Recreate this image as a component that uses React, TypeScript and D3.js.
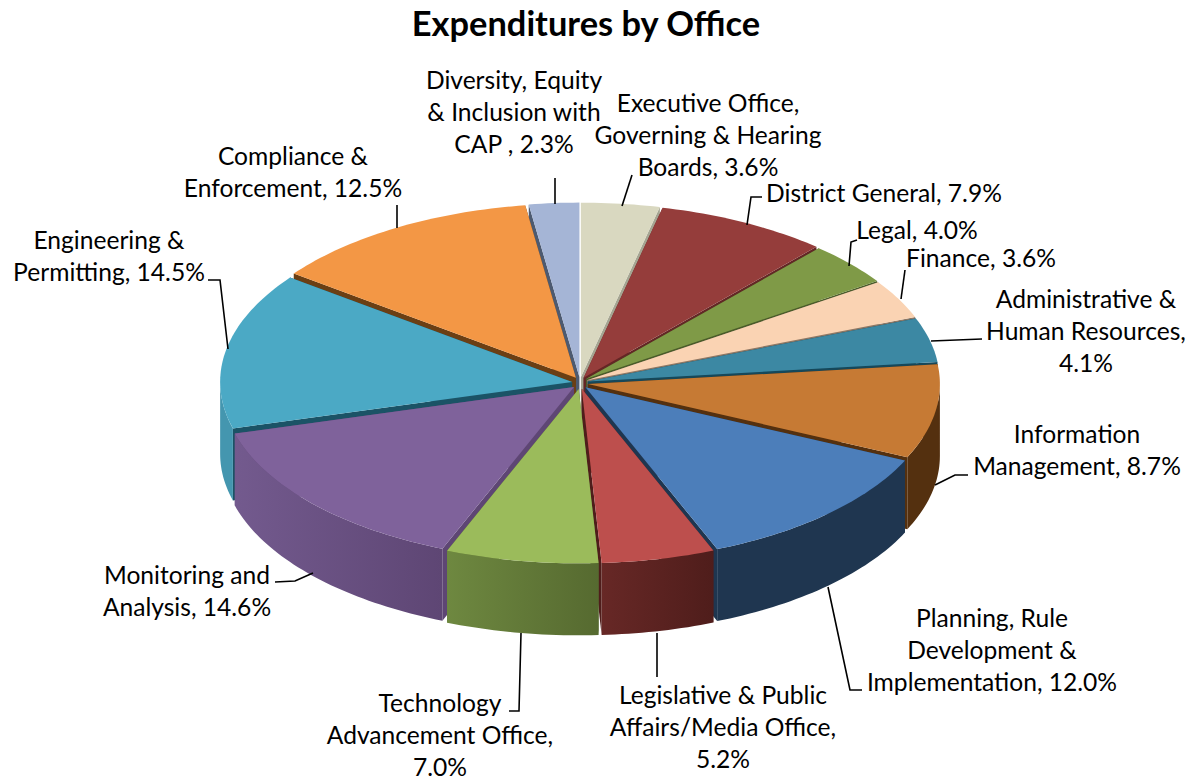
import React from "react";
import * as d3 from "d3";

const categories = ["Executive Office, Governing & Hearing Boards","District General","Legal","Finance","Administrative & Human Resources","Information Management","Planning, Rule Development & Implementation","Legislative & Public Affairs/Media Office","Technology Advancement Office","Monitoring and Analysis","Engineering & Permitting","Compliance & Enforcement","Diversity, Equity & Inclusion with CAP"];
const shares = [3.6,7.9,4.0,3.6,4.1,8.7,12.0,5.2,7.0,14.6,14.5,12.5,2.3];
const topColors = ["#D9D8C0","#953D3B","#7F9A47","#FAD3B3","#3C88A3","#C67A34","#4C7EBA","#BD4F4D","#9BBB5B","#7F629B","#4BA9C5","#F39745","#A5B5D6"];
const wallLight = ["#A5A592","#6A2A28","#566A30","#9C8672","#2A6478","#54300F","#1F3650","#672826","#6E8840","#735A8E","#4496AF","#6B3F14","#56637A"];
const wallDark = ["#A5A592","#632725","#4A5C2A","#8C7765","#16485A","#54300F","#1F3650","#4F1D1B","#566A30","#5E4674","#1B5366","#6B3F14","#4D5A70"];

const titleText = "Expenditures by Office";
const labelLines = [
  ["Executive Office,","Governing & Hearing","Boards, 3.6%"],
  ["District General, 7.9%"],
  ["Legal, 4.0%"],
  ["Finance, 3.6%"],
  ["Administrative &","Human Resources,","4.1%"],
  ["Information","Management, 8.7%"],
  ["Planning, Rule","Development &","Implementation, 12.0%"],
  ["Legislative & Public","Affairs/Media Office,","5.2%"],
  ["Technology","Advancement Office,","7.0%"],
  ["Monitoring and","Analysis, 14.6%"],
  ["Engineering &","Permitting, 14.5%"],
  ["Compliance &","Enforcement, 12.5%"],
  ["Diversity, Equity","& Inclusion with","CAP , 2.3%"],
];
// label anchor: centre x, first baseline
const labelAnchors: [number, number][] = [[708,112],[884,202],[917,239],[981,267],[1086,308],[1077,443],[992,627],[723,704],[440,712],[187,584],[109,249],[293,165],[514,89]];
const leaders: [number, number][][] = [
  [[632,175],[622,206]],
  [[762,197],[751,197],[747,225]],
  [[857,240],[851,242],[849,266]],
  [[905,270],[901,299]],
  [[982,339],[931,341]],
  [[968,475],[955,475],[935,485]],
  [[862,690],[850,690],[828,587]],
  [[657,633],[657,677]],
  [[509,711],[519,711],[521,633]],
  [[275,582],[295,581],[313,573]],
  [[208,280],[220,280],[228,349]],
  [[397,205],[397,228]],
  [[555,178],[555,204]],
];

const W = 1191, H = 778;
const CX = 580, CY = 383, RX = 352, RY = 174.4, DEPTH = 72, EX = 8, EY = 6;
const FONT = "Lato, Carlito, sans-serif";

const sx = d3.scaleLinear().domain([-1, 1]).range([CX - RX, CX + RX]);
const sy = d3.scaleLinear().domain([-1, 1]).range([CY - RY, CY + RY]);
const lineGen = d3.line<[number, number]>();

const arcs = d3.pie<number>().sort(null).startAngle(0).endAngle(2 * Math.PI)(shares);

function pt(t: number, ox: number, oy: number, dz = 0): [number, number] {
  return [sx(Math.sin(t)) + ox, sy(-Math.cos(t)) + oy + dz];
}
function sample(a: number, b: number): number[] {
  const n = Math.max(2, Math.ceil(Math.abs(b - a) / 0.02));
  return d3.range(n + 1).map((i) => a + ((b - a) * i) / n);
}

const slices = arcs.map((arc) => {
  const i = arc.index;
  const a0 = arc.startAngle, a1 = arc.endAngle, mid = (a0 + a1) / 2;
  const ox = EX * Math.sin(mid), oy = -EY * Math.cos(mid);
  const c: [number, number] = [sx(0) + ox, sy(0) + oy];
  const cb: [number, number] = [c[0], c[1] + DEPTH];
  const rim = sample(a0, a1).map((t) => pt(t, ox, oy));
  const top = lineGen([c, ...rim])! + "Z";
  const w0 = Math.max(a0, Math.PI / 2), w1 = Math.min(a1, (3 * Math.PI) / 2);
  const wall = w1 > w0
    ? lineGen([
        ...sample(w0, w1).map((t) => pt(t, ox, oy)),
        ...sample(w1, w0).map((t) => pt(t, ox, oy, DEPTH)),
      ])! + "Z"
    : null;
  const radial = [a0, a1].map((t) => lineGen([c, pt(t, ox, oy), pt(t, ox, oy, DEPTH), cb])! + "Z");
  return { i, mid, top, wall, radial };
});
const drawOrder = [...slices].sort((p, q) => Math.cos(q.mid) - Math.cos(p.mid));

export default function App() {
  return (
    <svg width={W} height={H} viewBox={`0 0 ${W} ${H}`} style={{ position: "absolute", left: 0, top: 0, background: "#fff" }}>
      <defs>
        {slices.map((s) => (
          <linearGradient key={s.i} id={`wall${s.i}`} x1="0" x2="1" y1="0" y2="0">
            <stop offset="0" stopColor={wallLight[s.i]} />
            <stop offset="1" stopColor={s.i === 10 ? wallLight[s.i] : wallDark[s.i]} />
          </linearGradient>
        ))}
      </defs>
      <text x={586} y={36} textAnchor="middle" fontFamily={FONT} fontWeight={700} fontSize={34.4} fill="#000">{titleText}</text>
      <g>
        {drawOrder.map((s) => (
          <g key={s.i} data-name={categories[s.i]}>
            {s.radial.map((d, k) => <path key={k} d={d} fill={wallDark[s.i]} />)}
            {s.wall && <path d={s.wall} fill={`url(#wall${s.i})`} />}
            <path d={s.top} fill={topColors[s.i]} />
          </g>
        ))}
      </g>
      <g fill="none" stroke="#000" strokeWidth={1.6}>
        {leaders.map((l, i) => <path key={i} d={lineGen(l)!} />)}
      </g>
      <g fontFamily={FONT} fontSize={24.6} fill="#000" textAnchor="middle">
        {labelLines.map((lines, i) =>
          lines.map((t, k) => (
            <text key={`${i}-${k}`} x={labelAnchors[i][0]} y={labelAnchors[i][1] + k * 32.1}>{t}</text>
          ))
        )}
      </g>
    </svg>
  );
}
